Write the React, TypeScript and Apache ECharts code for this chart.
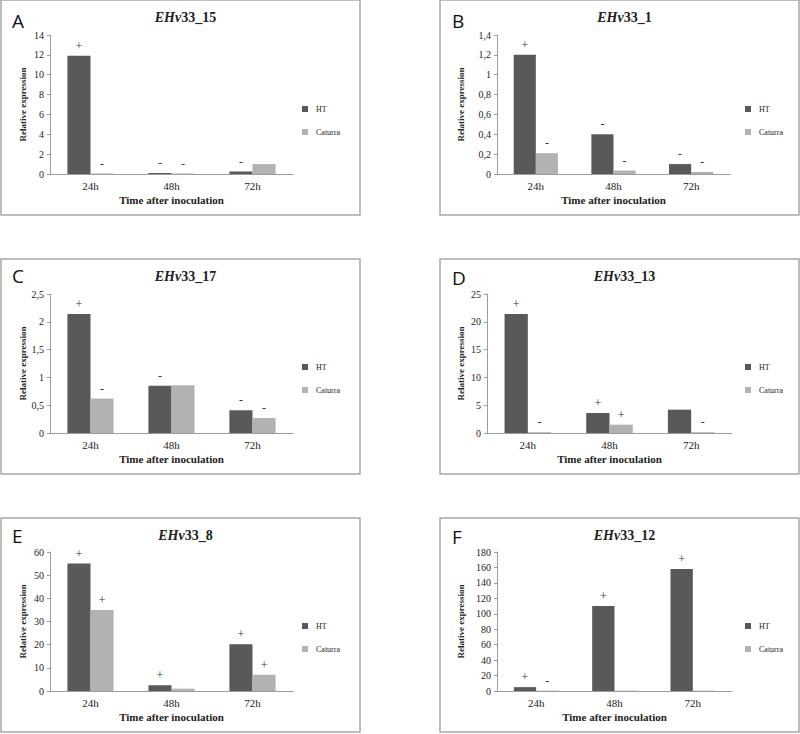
import React, { useEffect, useRef } from "react";
import * as echarts from "echarts";

// ---- Data ----
const categories = ["24h", "48h", "72h"];
const seriesNames = ["HT", "Caturra"];

const geneIds = ["15", "1", "17", "13", "8", "12"];
const panelLetters = ["A", "B", "C", "D", "E", "F"];

const htA = [11.9, 0.1, 0.25];
const caturraA = [0.05, 0.05, 1.0];
const htMarksA = ["+", "-", "-"];
const caturraMarksA = ["-", "-", ""];

const htB = [1.2, 0.4, 0.1];
const caturraB = [0.21, 0.035, 0.02];
const htMarksB = ["+", "-", "-"];
const caturraMarksB = ["-", "-", "-"];

const htC = [2.14, 0.85, 0.41];
const caturraC = [0.62, 0.86, 0.27];
const htMarksC = ["+", "-", "-"];
const caturraMarksC = ["-", "", "-"];

const htD = [21.4, 3.6, 4.2];
const caturraD = [0.15, 1.5, 0.15];
const htMarksD = ["+", "+", ""];
const caturraMarksD = ["-", "+", "-"];

const htE = [55, 2.5, 20.2];
const caturraE = [35, 1, 7];
const htMarksE = ["+", "+", "+"];
const caturraMarksE = ["+", "", "+"];

const htF = [5, 110, 158];
const caturraF = [0.5, 0.5, 0.5];
const htMarksF = ["+", "+", "+"];
const caturraMarksF = ["-", "", ""];

// y-axis tick settings (max, interval)
const yMax = [14, 1.4, 2.5, 25, 60, 180];
const yInterval = [2, 0.2, 0.5, 5, 10, 20];

const htValues = [htA, htB, htC, htD, htE, htF];
const caturraValues = [caturraA, caturraB, caturraC, caturraD, caturraE, caturraF];
const htMarks = [htMarksA, htMarksB, htMarksC, htMarksD, htMarksE, htMarksF];
const caturraMarks = [caturraMarksA, caturraMarksB, caturraMarksC, caturraMarksD, caturraMarksE, caturraMarksF];

// ---- Layout ----
const panels = [
  { box: [1, 0, 359, 215], grid: [50, 35, 243, 139], nameGap: 23, legend: [297, 100], letter: [12, 11] },
  { box: [440, 0, 359, 215], grid: [497, 35, 233, 139], nameGap: 32, legend: [740, 100], letter: [452, 11] },
  { box: [1, 259, 359, 215], grid: [50, 294, 243, 139], nameGap: 23, legend: [297, 358], letter: [12, 266] },
  { box: [440, 259, 359, 215], grid: [487, 294, 245, 139], nameGap: 22, legend: [740, 358], letter: [452, 268] },
  { box: [1, 518, 359, 214], grid: [50, 552, 243, 139], nameGap: 23, legend: [297, 617], letter: [12, 526] },
  { box: [440, 518, 359, 214], grid: [497, 552, 235, 139], nameGap: 32, legend: [740, 617], letter: [452, 527] },
];

const SERIF = "Liberation Serif";
const TICK_FONT = "'Times New Roman', 'Liberation Serif', serif";
const HT_COLOR = "#595959";
const CAT_COLOR = "#b2b2b2";
const AXIS_COLOR = "#9c9c9c";

function fmt(v: number) {
  return String(Number(v.toFixed(3))).replace(".", ",");
}

export default function App() {
  const ref = useRef<HTMLDivElement>(null);
  useEffect(() => {
    if (!ref.current) return;
    const chart = echarts.init(ref.current, undefined, { renderer: "svg" });

    const grid: any[] = [];
    const xAxis: any[] = [];
    const yAxis: any[] = [];
    const series: any[] = [];
    const legend: any[] = [];
    const title: any[] = [];
    const graphic: any[] = [];

    panels.forEach((p, i) => {
      const [gl, gt, gw, gh] = p.grid;
      grid.push({ left: gl, top: gt, width: gw, height: gh, containLabel: false });
      xAxis.push({
        type: "category",
        gridIndex: i,
        data: categories,
        name: "Time after inoculation",
        nameLocation: "middle",
        nameGap: 20,
        nameTextStyle: { fontFamily: SERIF, fontWeight: "bold", fontSize: 11, color: "#222" },
        axisLine: { lineStyle: { color: AXIS_COLOR, width: 1 } },
        axisTick: { show: false },
        axisLabel: {
          margin: 6,
          formatter: (v: string) => "{t|" + v + "}",
          rich: { t: { fontFamily: TICK_FONT, fontSize: 11, color: "#222" } },
        },
      });
      yAxis.push({
        type: "value",
        gridIndex: i,
        min: 0,
        max: yMax[i],
        interval: yInterval[i],
        name: "Relative expression",
        nameLocation: "middle",
        nameGap: p.nameGap,
        nameTextStyle: { fontFamily: SERIF, fontWeight: "bold", fontSize: 9, color: "#222" },
        axisLine: { show: true, lineStyle: { color: AXIS_COLOR, width: 1 } },
        axisTick: { show: true, length: 3, lineStyle: { color: AXIS_COLOR } },
        splitLine: { show: false },
        axisLabel: {
          margin: 6,
          formatter: (v: number) => "{t|" + fmt(v) + "}",
          rich: { t: { fontFamily: TICK_FONT, fontSize: 10, color: "#222" } },
        },
      });
      const mk = (marks: string[]) => ({
        show: true,
        position: "top",
        distance: 4,
        fontFamily: SERIF,
        fontSize: 12,
        color: "#333",
        formatter: (prm: any) => marks[prm.dataIndex] || "",
      });
      series.push({
        type: "bar",
        name: "HT",
        xAxisIndex: i,
        yAxisIndex: i,
        data: htValues[i],
        itemStyle: { color: HT_COLOR },
        barGap: "0%",
        barCategoryGap: "43%",
        label: mk(htMarks[i]),
      });
      series.push({
        type: "bar",
        name: "Caturra",
        xAxisIndex: i,
        yAxisIndex: i,
        data: caturraValues[i],
        itemStyle: { color: CAT_COLOR },
        barGap: "0%",
        barCategoryGap: "43%",
        label: mk(caturraMarks[i]),
      });
      legend.push({
        data: seriesNames,
        orient: "vertical",
        left: p.legend[0],
        top: p.legend[1],
        icon: "rect",
        itemWidth: 6,
        itemHeight: 6,
        itemGap: 15,
        selectedMode: false,
        textStyle: { fontFamily: SERIF, fontSize: 8, color: "#222", padding: [0, 0, 0, 3] },
      });
      const [bx, by, bw, bh] = p.box;
      title.push({
        text: "{i|EHv}{n|33_" + geneIds[i] + "}",
        left: bx + bw / 2,
        top: by + 5,
        textAlign: "center",
        textStyle: {
          rich: {
            i: { fontFamily: SERIF, fontStyle: "italic", fontWeight: "bold", fontSize: 14, color: "#222" },
            n: { fontFamily: SERIF, fontWeight: "bold", fontSize: 14, color: "#222" },
          },
        },
      });
      graphic.push({
        type: "rect",
        shape: { x: bx, y: by, width: bw, height: bh },
        style: { fill: "none", stroke: "#a8a8a8", lineWidth: 1.5 },
        silent: true,
      });
      graphic.push({
        type: "text",
        x: p.letter[0],
        y: p.letter[1],
        style: {
          text: panelLetters[i],
          fontFamily: "Open Sans",
          fontSize: 19,
          fill: "#111",
        },
        silent: true,
      });
    });

    chart.setOption({
      animation: false,
      backgroundColor: "#ffffff",
      textStyle: { fontFamily: SERIF },
      title,
      legend,
      grid,
      xAxis,
      yAxis,
      series,
      graphic,
    });
    return () => chart.dispose();
  }, []);

  return (
    <div
      ref={ref}
      style={{ position: "absolute", left: 0, top: 0, width: 800, height: 734, background: "#fff" }}
    />
  );
}
